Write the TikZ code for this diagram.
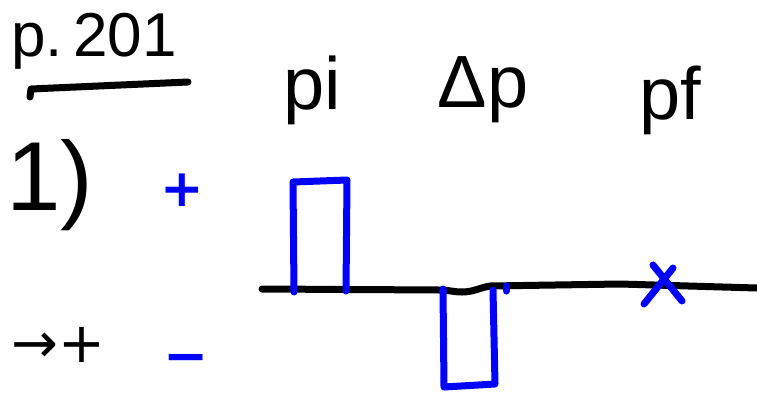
\documentclass[tikz,border=0pt]{standalone}
\usepackage{fontspec}
\setmainfont{Liberation Sans}
\newfontfamily\symfont{DejaVu Sans}
\definecolor{penblue}{RGB}{0,0,255}
\tikzset{
  ink/.style={line width=7pt, line cap=round, line join=round},
  blueink/.style={ink, draw=penblue},
  lbl/.style={inner sep=0pt, outer sep=0pt, anchor=center},
}
\begin{document}
\begin{tikzpicture}[x=1pt,y=-1pt]
\useasboundingbox (0,0) rectangle (757,397);
% labels
\node[lbl] (page) at (94,41) {\fontsize{62}{66}\selectfont p.\,201};
\coordinate (ulA) at (30,97);
\coordinate (ulB) at (31,89);
\coordinate (ulC) at (188,82);
\draw[ink] (ulA) -- (ulB) -- (ulC);
\node[lbl] (one) at (50,185) {\fontsize{98}{102}\selectfont 1)};
\node[lbl] (arrowplus) at (58,345) {\symfont\fontsize{56}{60}\selectfont →+};
\node[lbl, text=penblue] (plus) at (182,190) {\symfont\bfseries\fontsize{52}{56}\selectfont +};
\node[lbl, text=penblue] (minus) at (186,364) {\symfont\bfseries\fontsize{54}{58}\selectfont −};
\node[lbl] (pi) at (312,90) {\fontsize{74}{78}\selectfont pi};
\node[lbl] (dp) at (483,90) {\fontsize{74}{78}\selectfont Δp};
\node[lbl] (pf) at (670,100) {\fontsize{74}{78}\selectfont pf};
% baseline
\coordinate (b0) at (262,289);
\coordinate (b1) at (440,290);
\coordinate (b2) at (462,292);
\coordinate (b3) at (490,286);
\coordinate (b4) at (620,284);
\coordinate (b5) at (757,288);
\draw[ink] (b0) -- (b1) to[out=0,in=180] (b2) to[out=0,in=190] (b3) -- (b4) -- (b5);
% upper bar (pi)
\coordinate (u1) at (294,292);
\coordinate (u2) at (293,182);
\coordinate (u3) at (347,180);
\coordinate (u4) at (346,291);
\draw[blueink] (u1) -- (u2) -- (u3) -- (u4);
% lower bar (dp)
\coordinate (l1) at (443,289);
\coordinate (l2) at (444,387);
\coordinate (l3) at (495,384);
\coordinate (l4) at (493,290);
\draw[blueink] (l1) -- (l2) -- (l3) -- (l4);
\coordinate (t1) at (506,286);
\coordinate (t2) at (506,291);
\draw[blueink] (t1) -- (t2);
% X (pf)
\coordinate (x1) at (653,265);
\coordinate (x2) at (682,301);
\coordinate (x3) at (673,268);
\coordinate (x4) at (644,304);
\draw[blueink] (x1) -- (x2);
\draw[blueink] (x3) -- (x4);
\end{tikzpicture}
\end{document}
